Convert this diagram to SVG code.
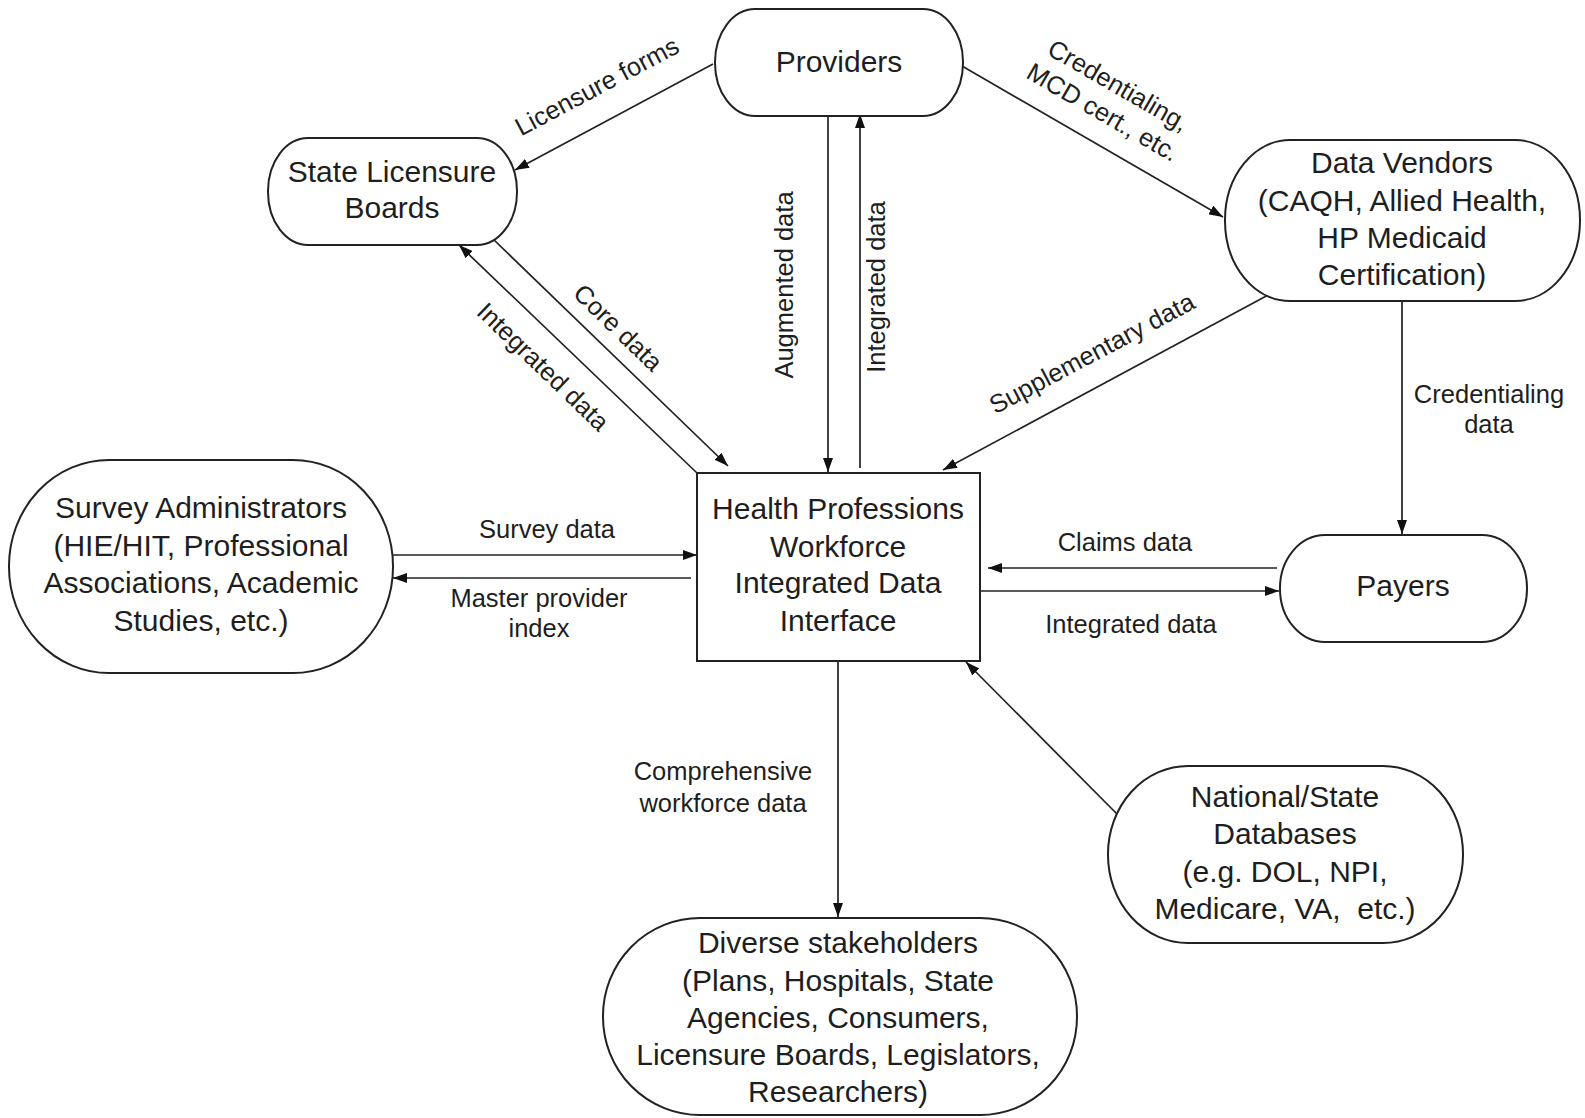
<svg xmlns="http://www.w3.org/2000/svg" width="1585" height="1118" viewBox="0 0 1585 1118">
<defs>
<marker id="arr" viewBox="0 0 14 10" refX="14" refY="5" markerWidth="14" markerHeight="10" orient="auto" markerUnits="userSpaceOnUse">
<path d="M0,0 L14,5 L0,10 z" fill="#111"/>
</marker>
<style>
.node{fill:#fff;stroke:#222;stroke-width:2}
.nt{font-family:"Liberation Sans",Arial,sans-serif;font-size:30px;fill:#1e1e1e;text-anchor:middle}
.lt{font-family:"Liberation Sans",Arial,sans-serif;font-size:25.5px;fill:#1e1e1e;text-anchor:middle}
.edge{fill:none;stroke:#222;stroke-width:1.7;marker-end:url(#arr)}
</style>
</defs>
<rect width="1585" height="1118" fill="#fff"/>

<g id="connectors">
<path class="edge" d="M713,64 L515,170"/>
<path class="edge" d="M962,66 L1223,217"/>
<path class="edge" d="M828,116 L828,472"/>
<path class="edge" d="M860,468 L860,114"/>
<path class="edge" d="M492,238 L728,466"/>
<path class="edge" d="M697,473 L459,245"/>
<path class="edge" d="M1270,294 L943,470"/>
<path class="edge" d="M1402,301 L1402,534"/>
<path class="edge" d="M392,555 L697,555"/>
<path class="edge" d="M691,578 L393,578"/>
<path class="edge" d="M1277,568 L988,568"/>
<path class="edge" d="M980,591 L1279,591"/>
<path class="edge" d="M838,661 L838,917"/>
<path class="edge" d="M1118,815 L966,662"/>

<text class="lt" transform="translate(601,94) rotate(-28)">Licensure forms</text>
<g transform="translate(1114,93) rotate(30)">
<text class="lt" x="0" y="0">Credentialing,</text>
<text class="lt" x="0" y="31">MCD cert., etc.</text>
</g>
<text class="lt" transform="translate(793,285) rotate(-90)">Augmented data</text>
<text class="lt" transform="translate(885,287) rotate(-90)">Integrated data</text>
<text class="lt" transform="translate(612,334) rotate(44)">Core data</text>
<text class="lt" transform="translate(537,373) rotate(44)">Integrated data</text>
<text class="lt" transform="translate(1096,361) rotate(-28)">Supplementary data</text>
<text class="lt" x="1489" y="403">Credentialing</text>
<text class="lt" x="1489" y="433">data</text>
<text class="lt" x="547" y="538">Survey data</text>
<text class="lt" x="539" y="607">Master provider</text>
<text class="lt" x="539" y="637">index</text>
<text class="lt" x="1125" y="551">Claims data</text>
<text class="lt" x="1131" y="633">Integrated data</text>
<text class="lt" x="723" y="780">Comprehensive</text>
<text class="lt" x="723" y="812">workforce data</text>
</g>

<g id="providers">
<rect class="node" x="715" y="9" width="248" height="107" rx="40" ry="53"/>
<text class="nt" x="839" y="72">Providers</text>
</g>

<g id="state-licensure-boards">
<rect class="node" x="268" y="138" width="249" height="107" rx="40" ry="53"/>
<text class="nt" x="392" y="182">State Licensure</text>
<text class="nt" x="392" y="218">Boards</text>
</g>

<g id="data-vendors">
<rect class="node" x="1225" y="140" width="355" height="161" rx="65" ry="80"/>
<text class="nt" x="1402" y="173">Data Vendors</text>
<text class="nt" x="1402" y="211">(CAQH, Allied Health,</text>
<text class="nt" x="1402" y="248">HP Medicaid</text>
<text class="nt" x="1402" y="285">Certification)</text>
</g>

<g id="survey-administrators">
<rect class="node" x="9" y="460" width="384" height="213" rx="100" ry="106"/>
<text class="nt" x="201" y="518">Survey Administrators</text>
<text class="nt" x="201" y="556">(HIE/HIT, Professional</text>
<text class="nt" x="201" y="593">Associations, Academic</text>
<text class="nt" x="201" y="631">Studies, etc.)</text>
</g>

<g id="central-interface">
<rect class="node" x="697" y="473" width="283" height="188"/>
<text class="nt" x="838" y="519">Health Professions</text>
<text class="nt" x="838" y="557">Workforce</text>
<text class="nt" x="838" y="593">Integrated Data</text>
<text class="nt" x="838" y="631">Interface</text>
</g>

<g id="payers">
<rect class="node" x="1280" y="535" width="247" height="107" rx="45" ry="53"/>
<text class="nt" x="1403" y="596">Payers</text>
</g>

<g id="national-state-databases">
<rect class="node" x="1108" y="766" width="355" height="177" rx="80" ry="88"/>
<text class="nt" x="1285" y="807">National/State</text>
<text class="nt" x="1285" y="844">Databases</text>
<text class="nt" x="1285" y="882">(e.g. DOL, NPI,</text>
<text class="nt" x="1285" y="919" xml:space="preserve">Medicare, VA,  etc.)</text>
</g>

<g id="diverse-stakeholders">
<rect class="node" x="603" y="918" width="474" height="197" rx="97" ry="98"/>
<text class="nt" x="838" y="953">Diverse stakeholders</text>
<text class="nt" x="838" y="991">(Plans, Hospitals, State</text>
<text class="nt" x="838" y="1028">Agencies, Consumers,</text>
<text class="nt" x="838" y="1065">Licensure Boards, Legislators,</text>
<text class="nt" x="838" y="1102">Researchers)</text>
</g>
</svg>
